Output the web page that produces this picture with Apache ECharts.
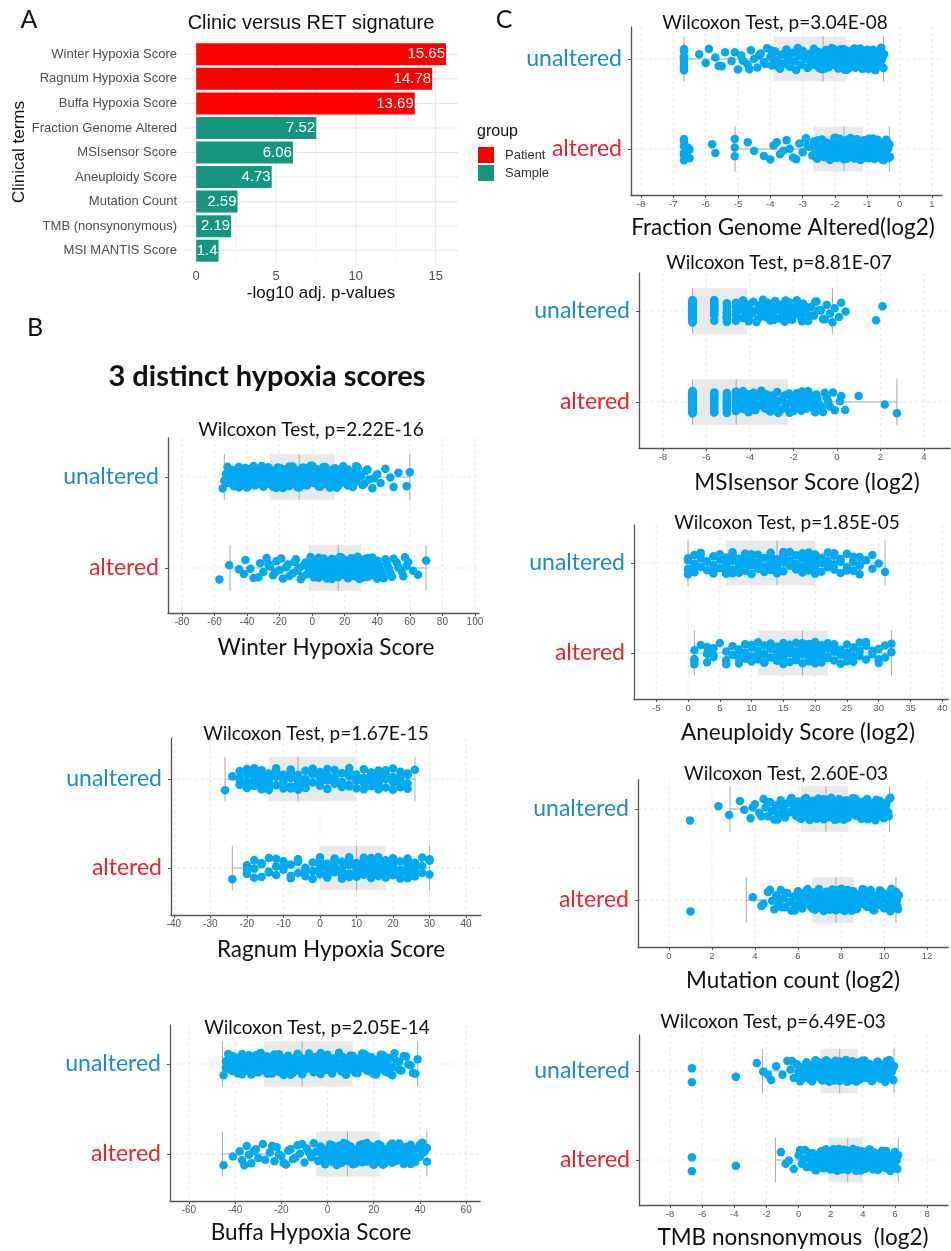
<!DOCTYPE html>
<html lang="en">
<head>
<meta charset="UTF-8">
<title>Clinic versus RET signature</title>
<script src="https://cdn.jsdelivr.net/npm/echarts@6/dist/echarts.min.js"></script>
<style>html,body{margin:0;padding:0;background:#fff;}</style>
</head>
<body>
<div id="main" style="width:951px;height:1251px;"></div>
<script type="text/javascript">
// ---- panel A: -log10 adj. p-values ----
var terms = ['Winter Hypoxia Score', 'Ragnum Hypoxia Score', 'Buffa Hypoxia Score', 'Fraction Genome Altered',
    'MSIsensor Score', 'Aneuploidy Score', 'Mutation Count', 'TMB (nonsynonymous)', 'MSI MANTIS Score'];
var patientVals = [15.65, 14.78, 13.69, '-', '-', '-', '-', '-', '-'];
var sampleVals = ['-', '-', '-', 7.52, 6.06, 4.73, 2.59, 2.19, 1.4];
var ticksA = [0, 5, 10, 15];

// ---- box stats: [whisker low, q1, median, q3, whisker high] ----
var winterBoxU = [-54, -26, -8, 14, 60];
var winterBoxA = [-50.5, -2, 16, 30, 70];
var ragnumBoxU = [-26, -14, -6, 10, 26];
var ragnumBoxA = [-24, 0, 10, 18, 30];
var buffaBoxU = [-45.5, -27.5, -11, 10.8, 39];
var buffaBoxA = [-45.5, -5, 8.6, 22.6, 43];
var fgaBoxU = [-6.67, -3.9, -2.37, -1.65, -0.5];
var fgaBoxA = [-5.09, -2.67, -1.72, -1.13, -0.32];
var msiBoxU = [-6.64, -6.64, -6.64, -4.1, -0.2];
var msiBoxA = [-6.64, -6.64, -4.63, -2.25, 2.76];
var aneuBoxU = [0, 6, 14, 20, 31];
var aneuBoxA = [1, 11, 18, 22, 32];
var mutBoxU = [2.84, 6.14, 7.3, 8.33, 10.26];
var mutBoxA = [3.6, 6.65, 7.77, 8.6, 10.56];
var tmbBoxU = [-2.25, 1.37, 2.56, 3.68, 5.94];
var tmbBoxA = [-1.44, 1.87, 3.06, 4.0, 6.2];

// ---- tick labels ----
var winterTicks = [-80, -60, -40, -20, 0, 20, 40, 60, 80, 100];
var ragnumTicks = [-40, -30, -20, -10, 0, 10, 20, 30, 40];
var buffaTicks = [-60, -40, -20, 0, 20, 40, 60];
var fgaTicks = [-8, -7, -6, -5, -4, -3, -2, -1, 0, 1];
var msiTicks = [-8, -6, -4, -2, 0, 2, 4];
var aneuTicks = [-5, 0, 5, 10, 15, 20, 25, 30, 35, 40];
var mutTicks = [0, 2, 4, 6, 8, 10, 12];
var tmbTicks = [-8, -6, -4, -2, 0, 2, 4, 6, 8];

// ---- points ----
var winterU = [-55, -53, -52, -51, -50, -48, -47, -46, -45, -44, -43, -42, -41, -40, -39, -38, -37, -36, -35, -34, -33, -31, -29, -27,
    -26, -25, -24, -23, -22, -21, -21, -20, -19, -18, -18, -17, -16, -15, -15, -14, -13, -12, -12, -11, -10, -10, -9, -8,
    -7, -6, -5, -4, -3, -2, -1, 0, 1, 2, 3, 4, 5, 5, 6, 7, 8, 9, 10, 10, 11, 12, 13, 14,
    15, 16, 17, 18, 19, 20, 21, 22, 24, 25, 26, 27, 28, 30, 31, 33, 35, 37, 40, 42, 45, 48, 58, 60,
    -54, -52, -50, -49, -48, -46, -45, -43, -42, -41, -40, -39, -38, -37, -36, -35, -34, -32, -31, -30, -29, -28, -27, -26,
    -25, -24, -23, -22, -21, -20, -19, -18, -17, -16, -15, -14, -13, -12, -11, -10, -9, -8, -7, -6, -5, -4, -3, -2,
    -1, 0, 1, 2, 3, 4, 6, 7, 8, 9, 11, 12, 13, 15, 16, 18, 19, 20, 22, 23, 25, 27, 29, 32, 34, 38, 50, 53];
var winterA = [-57, -51, -42, -41, -38, -33, -32, -30, -28, -26, -24, -22, -20, -18, -15, -12, -10, -8, -6, -4,
    -2, -1, 0, 1, 2, 3, 4, 5, 6, 7, 8, 9, 10, 11, 12, 13, 14, 14, 15, 16,
    16, 17, 18, 19, 20, 21, 21, 22, 23, 24, 25, 25, 26, 27, 27, 28, 28, 29, 29, 30,
    31, 32, 33, 34, 35, 36, 37, 38, 40, 41, 43, 45, 47, 49, 52, 55, 57, 58, 65, 70,
    -45, -36, -27, -23, -19, -16, -14, -11, -9, -7, -5, -3, -1, 0, 1, 2, 3, 4, 5, 6, 7, 8, 9, 10, 11, 12, 13, 15,
    15, 17, 17, 18, 19, 20, 20, 22, 23, 24, 24, 26, 26, 27, 28, 29, 30, 31, 32, 33, 34, 35, 36, 37, 38, 39, 40,
    42, 44, 46, 48, 50, 53, 56, 59, 62];
var ragnumU = [-26, -24, -22, -22, -22, -20, -20, -20, -20, -18, -18, -18, -18, -16, -16, -16, -16,
    -14, -14, -14, -14, -12, -12, -12, -12, -10, -10, -10, -10, -8, -8, -8, -8, -6, -6, -6, -6,
    -4, -4, -4, -2, -2, -2, 0, 0, 0, 2, 2, 2, 4, 4, 4, 6, 6, 6, 8, 8, 8, 8, 10, 10, 10,
    12, 12, 12, 14, 14, 14, 16, 16, 16, 16, 18, 18, 18, 20, 20, 20, 22, 22, 22, 24, 24, 24, 26,
    -22, -20, -18, -16, -14, -12, -10, -8, -6, -4, -2, 0, 2, 4, 6, 8, 10, 12, 14, 16, 18, 20, 22, 24,
    -20, -18, -16, -14, -12, -10, -8, -6, -4, -2, 4, 8, 14, 16, 20, 22];
var ragnumA = [-24, -20, -20, -18, -18, -16, -16, -14, -14, -12, -12, -10, -10, -8, -8, -6, -6, -4, -4, -2, -2,
    0, 0, 0, 0, 2, 2, 2, 4, 4, 4, 6, 6, 6, 6, 8, 8, 8, 10, 10, 10, 10,
    12, 12, 12, 12, 12, 14, 14, 14, 14, 14, 16, 16, 16, 16, 16, 18, 18, 18, 18, 18,
    20, 20, 20, 20, 22, 22, 22, 24, 24, 24, 24, 26, 26, 26, 28, 28, 30, 30,
    -20, -18, -16, -14, -12, -10, -8, -6, -4, -2, 0, 2, 4, 6, 8, 10, 12, 14, 16, 18, 20, 22, 24, 26, 28, 30,
    0, 2, 4, 6, 8, 10, 12, 14, 16, 18, 20, 22, 24, 26];
var buffaU = [-45, -44, -42, -41, -40, -39, -39, -38, -37, -36, -36, -35, -34, -33, -33, -32, -31, -31, -30, -30, -29, -29, -28, -28,
    -27, -26, -26, -25, -24, -23, -22, -21, -21, -20, -19, -18, -17, -17, -16, -15, -15, -14, -13, -13, -12, -12, -11, -11,
    -10, -9, -8, -7, -6, -5, -4, -3, -2, -1, 0, 1, 2, 3, 4, 5, 6, 6, 7, 8, 8, 9, 10, 10,
    11, 12, 13, 14, 15, 16, 17, 18, 19, 20, 21, 22, 23, 24, 25, 26, 27, 28, 30, 31, 33, 35, 37, 39,
    -44, -43, -42, -41, -40, -38, -37, -36, -35, -34, -33, -32, -31, -30, -29, -28, -27, -26, -25, -24, -23, -22, -21, -20,
    -19, -18, -17, -16, -15, -14, -13, -12, -11, -10, -9, -8, -7, -6, -5, -4, -3, -2, -1, 0, 1, 2, 3, 4, 5, 7, 9,
    11, 12, 13, 14, 15, 16, 17, 18, 19, 20, 21, 22, 23, 24, 25, 26, 27, 28, 29, 31, 32, 34, 36, 38];
var buffaA = [-45, -38, -37, -35, -34, -33, -31, -30, -28, -25, -23, -22, -20, -18, -17, -15, -13, -12, -10, -9, -7, -6,
    -5, -4, -3, -2, -1, 0, 0, 1, 2, 2, 3, 3, 4, 4, 5, 5, 6, 6, 7, 7, 8, 8,
    9, 10, 11, 11, 12, 13, 14, 14, 15, 16, 16, 17, 18, 18, 19, 20, 20, 21, 21, 22, 22, 22,
    23, 24, 24, 25, 26, 27, 27, 28, 29, 30, 31, 32, 33, 34, 35, 36, 37, 38, 40, 41, 43, 43,
    -41, -36, -32, -27, -24, -21, -19, -16, -14, -11, -8, -4, -3, -2, -1, 0, 1, 2, 3, 4, 5, 6, 7, 8, 9, 10,
    11, 12, 13, 14, 15, 16, 17, 18, 19, 20, 21, 22, 23, 24, 25, 26, 27, 28, 29, 30, 31, 32, 33, 34, 35, 36,
    37, 38, 39, 40, 41, 42];
var fgaU = [-6.67, -6.67, -6.67, -6.67, -6.67, -6.67, -6.2, -6.0, -5.9, -5.7, -5.5, -5.4, -5.2, -5.0, -4.9, -4.7, -4.6, -4.5, -4.4, -4.3, -4.2, -4.1, -4.0, -3.95,
    -3.85, -3.8, -3.7, -3.65, -3.6, -3.5, -3.45, -3.4, -3.3, -3.25, -3.2, -3.1, -3.05, -3.0, -2.9, -2.85, -2.8, -2.7, -2.65, -2.6, -2.55, -2.5, -2.45, -2.4,
    -2.35, -2.3, -2.28, -2.25, -2.2, -2.18, -2.15, -2.1, -2.05, -2.0, -1.98, -1.95, -1.9, -1.88, -1.85, -1.82, -1.8, -1.78, -1.75, -1.72, -1.7, -1.68, -1.66, -1.65,
    -1.6, -1.55, -1.5, -1.45, -1.4, -1.35, -1.3, -1.25, -1.2, -1.15, -1.1, -1.05, -1.0, -0.95, -0.9, -0.85, -0.8, -0.75, -0.7, -0.65, -0.6, -0.55, -0.5, -0.48,
    -6.67, -6.67, -6.67, -5.6, -5.1, -4.85, -4.65, -4.35, -4.15, -3.98, -3.9, -3.75, -3.55, -3.35, -3.15, -2.95, -2.75, -2.58, -2.42, -2.32,
    -2.22, -2.12, -2.02, -1.92, -1.83, -1.76, -1.69, -1.62, -1.57, -1.52, -1.47, -1.42, -1.37, -1.32, -1.27, -1.22, -1.17, -1.12, -1.07, -1.02,
    -0.97, -0.92, -0.87, -0.82, -0.77, -0.72, -0.67, -0.62, -0.57, -0.52, -3.45, -3.05, -2.68, -2.48, -2.08, -1.86, -1.74, -1.58, -1.38, -1.18, -0.98, -0.78];
var fgaA = [-6.67, -6.67, -6.67, -6.67, -6.5, -6.5, -5.8, -5.7, -5.1, -5.1, -5.1, -4.7, -4.5, -4.0, -3.9, -3.7, -3.5, -3.4, -3.3, -3.1, -3.0, -2.9, -2.8, -2.7,
    -2.65, -2.6, -2.55, -2.5, -2.45, -2.4, -2.35, -2.3, -2.25, -2.2, -2.15, -2.1, -2.05, -2.0, -1.98, -1.95, -1.9, -1.88, -1.85, -1.82, -1.8, -1.78, -1.75, -1.73,
    -1.7, -1.68, -1.65, -1.62, -1.6, -1.58, -1.55, -1.52, -1.5, -1.48, -1.45, -1.42, -1.4, -1.38, -1.35, -1.32, -1.3, -1.28, -1.25, -1.22, -1.2, -1.18, -1.15, -1.14,
    -1.1, -1.05, -1.0, -0.98, -0.95, -0.9, -0.88, -0.85, -0.8, -0.78, -0.75, -0.7, -0.68, -0.65, -0.6, -0.58, -0.55, -0.5, -0.48, -0.45, -0.4, -0.38, -0.35, -0.32,
    -6.67, -6.67, -6.55, -4.2, -3.8, -3.6, -3.2, -2.85, -2.62, -2.52, -2.42, -2.32, -2.22, -2.12, -2.02, -1.92, -1.84, -1.76, -1.69, -1.63,
    -1.57, -1.51, -1.46, -1.41, -1.36, -1.31, -1.26, -1.21, -1.16, -1.12, -1.08, -1.03, -0.99, -0.93, -0.87, -0.82, -0.77, -0.72, -0.66, -0.62,
    -0.56, -0.52, -0.46, -0.42, -0.36, -0.3, -2.48, -2.28, -1.98, -1.78, -1.54, -1.34, -1.14, -0.96, -0.74];
var msiU = [-6.64, -6.64, -6.64, -6.64, -6.64, -6.64, -6.64, -6.64, -6.64, -6.64, -6.64, -6.64, -6.64, -6.64, -6.64, -6.64, -6.64, -6.64, -6.64, -6.64, -6.64, -6.64, -6.64, -6.64,
    -5.64, -5.64, -5.64, -5.64, -5.64, -5.64, -5.64, -5.06, -5.06, -5.06, -5.06, -5.06, -5.06,
    -4.64, -4.64, -4.64, -4.64, -4.64, -4.32, -4.32, -4.32, -4.32, -4.06, -4.06, -4.06, -4.06,
    -3.84, -3.74, -3.64, -3.56, -3.47, -3.4, -3.32, -3.25, -3.18, -3.12, -3.06, -3.0, -2.94, -2.84, -2.74, -2.64, -2.56, -2.47, -2.4, -2.32,
    -2.25, -2.18, -2.12, -2.06, -2.0, -1.94, -1.84, -1.74, -1.64, -1.56, -1.47, -1.32, -1.18, -1.06, -0.94, -0.84, -0.64, -0.47, -0.32, -0.2,
    -0.1, 0.1, 0.2, 0.4, 1.8, 2.1,
    -6.64, -6.64, -6.64, -6.64, -6.64, -6.64, -6.64, -6.64, -6.64, -6.64, -6.64, -6.64, -5.64, -5.64, -5.64, -5.64, -5.06, -5.06, -5.06,
    -4.64, -4.64, -4.64, -4.32, -4.32, -4.06, -4.06, -3.9, -3.7, -3.5, -3.36, -3.22, -3.1, -2.9, -2.7, -2.5, -2.36, -2.22, -2.1, -1.9, -1.8,
    -1.6, -1.4, -1.25, -1.0, -0.74, -0.56];
var msiA = [-6.64, -6.64, -6.64, -6.64, -6.64, -6.64, -6.64, -6.64, -6.64, -6.64, -6.64, -6.64, -6.64, -6.64, -6.64, -6.64, -6.64, -6.64, -6.64, -6.64, -6.64, -6.64,
    -5.64, -5.64, -5.64, -5.64, -5.64, -5.64, -5.64, -5.64, -5.06, -5.06, -5.06, -5.06, -5.06, -5.06, -5.06,
    -4.64, -4.64, -4.64, -4.64, -4.64, -4.64, -4.64,
    -4.32, -4.32, -4.32, -4.06, -4.06, -4.06, -3.84, -3.84, -3.74, -3.64, -3.56, -3.47, -3.4, -3.32, -3.25, -3.12, -3.06, -2.94, -2.84, -2.74, -2.64, -2.56, -2.4, -2.32,
    -2.18, -2.06, -1.94, -1.84, -1.74, -1.64, -1.56, -1.47, -1.32, -1.18, -1.06, -0.94, -0.84, -0.64, -0.47, -0.32, -0.18, 0.14, 0.38, 1.0, 2.2, 2.76,
    -6.64, -6.64, -6.64, -6.64, -6.64, -6.64, -6.64, -6.64, -6.64, -6.64, -5.64, -5.64, -5.64, -5.64, -5.06, -5.06, -5.06,
    -4.64, -4.64, -4.64, -4.32, -4.32, -4.32, -4.06, -4.06, -4.06, -3.9, -3.7, -3.5, -3.3, -3.15, -3.0, -2.9, -2.7, -2.5, -2.36,
    -2.2, -2.1, -2.0, -1.9, -1.7, -1.6, -1.5, -1.4, -1.25, -1.1, -1.0, -0.9, -0.7, -0.56, -0.4, -0.1, 0.2];
var aneuU = [0, 0, 0, 1, 1, 1, 2, 2, 2, 3, 3, 4, 4, 4, 5, 5, 5, 6, 6, 6, 6, 7, 7, 7, 7, 8, 8, 8, 8, 9, 9, 9, 9, 10, 10, 10,
    11, 11, 11, 12, 12, 12, 13, 13, 13, 13, 14, 14, 14, 14, 15, 15, 15, 15, 16, 16, 16, 17, 17, 17, 18, 18, 18, 18,
    19, 19, 19, 19, 20, 20, 20, 20, 21, 21, 21, 22, 22, 22, 23, 23, 23, 24, 24, 25, 25, 26, 26, 27, 27, 27, 28, 29, 29, 30, 31,
    0, 1, 2, 3, 4, 5, 6, 7, 8, 9, 10, 11, 12, 13, 14, 15, 16, 17, 18, 19, 20, 21, 22, 23, 24, 25, 26, 27,
    6, 7, 8, 9, 13, 14, 15, 18, 19, 20];
var aneuA = [1, 1, 1, 2, 3, 3, 4, 4, 5, 6, 6, 7, 7, 8, 8, 8, 9, 9, 10, 10, 10, 11, 11, 11, 12, 12, 12, 13, 13, 13, 14, 14, 14,
    15, 15, 15, 15, 16, 16, 16, 16, 17, 17, 17, 17, 18, 18, 18, 18, 19, 19, 19, 19, 20, 20, 20, 20, 21, 21, 21, 21,
    22, 22, 22, 23, 23, 23, 24, 24, 24, 25, 25, 25, 26, 26, 26, 27, 27, 28, 28, 29, 30, 30, 31, 32, 32,
    1, 3, 4, 6, 8, 9, 10, 11, 12, 13, 14, 15, 16, 17, 18, 19, 20, 21, 22, 23, 24, 25, 26, 27, 28, 29, 30, 31,
    14, 15, 16, 17, 18, 19, 20, 21];
var mutU = [0.98, 2.3, 2.8, 3.3, 3.5, 3.8, 4.0, 4.2, 4.4, 4.5, 4.6, 4.7, 4.8, 4.9, 5.0, 5.1, 5.2, 5.3, 5.4, 5.5, 5.6, 5.7, 5.8, 5.9, 6.0, 6.1,
    6.15, 6.2, 6.25, 6.3, 6.35, 6.4, 6.45, 6.5, 6.55, 6.6, 6.65, 6.7, 6.75, 6.8, 6.85, 6.9, 6.95, 7.0, 7.05, 7.1, 7.15, 7.2, 7.25, 7.3,
    7.35, 7.4, 7.42, 7.45, 7.5, 7.55, 7.6, 7.65, 7.68, 7.7, 7.75, 7.8, 7.85, 7.9, 7.95, 8.0, 8.05, 8.1, 8.12, 8.15, 8.2, 8.25, 8.3, 8.32,
    8.4, 8.5, 8.55, 8.6, 8.7, 8.8, 8.9, 8.95, 9.0, 9.1, 9.2, 9.3, 9.35, 9.4, 9.5, 9.6, 9.7, 9.75, 9.8, 9.9, 10.0, 10.1, 10.2, 10.26,
    3.9, 4.3, 4.6, 4.85, 5.05, 5.25, 5.45, 5.65, 5.85, 6.05, 6.18, 6.28, 6.38, 6.48, 6.58, 6.68, 6.78, 6.88, 6.98, 7.08,
    7.18, 7.28, 7.38, 7.48, 7.58, 7.72, 7.82, 7.92, 8.02, 8.18, 8.28, 8.38, 8.48, 8.65, 8.75, 8.85, 9.05, 9.15, 9.25, 9.45,
    9.55, 9.65, 9.85, 9.95, 10.05, 10.15, 10.3, 6.22, 6.62, 7.02, 7.52, 7.88, 8.42, 8.82, 9.22, 9.62, 10.22];
var mutA = [1.0, 3.9, 4.3, 4.6, 4.8, 4.9, 5.0, 5.1, 5.2, 5.3, 5.4, 5.5, 5.6, 5.7, 5.8, 5.9, 6.0, 6.1, 6.2, 6.3, 6.4, 6.45, 6.5, 6.6,
    6.7, 6.75, 6.8, 6.85, 6.9, 6.95, 7.0, 7.05, 7.1, 7.15, 7.2, 7.25, 7.3, 7.35, 7.4, 7.45, 7.5, 7.55, 7.6, 7.65, 7.7, 7.72, 7.75, 7.76,
    7.8, 7.82, 7.85, 7.88, 7.9, 7.95, 8.0, 8.02, 8.05, 8.1, 8.12, 8.15, 8.2, 8.22, 8.25, 8.3, 8.35, 8.4, 8.42, 8.45, 8.5, 8.52, 8.55, 8.58,
    8.65, 8.7, 8.8, 8.9, 9.0, 9.1, 9.2, 9.3, 9.4, 9.5, 9.6, 9.7, 9.8, 9.9, 10.0, 10.1, 10.2, 10.3, 10.4, 10.5, 10.56, 10.6, 10.65, 10.7,
    4.4, 4.7, 5.05, 5.25, 5.45, 5.65, 5.85, 6.05, 6.25, 6.38, 6.55, 6.68, 6.78, 6.88, 6.98, 7.08, 7.18, 7.28, 7.38, 7.48,
    7.58, 7.68, 7.78, 7.84, 7.92, 7.98, 8.08, 8.18, 8.28, 8.38, 8.48, 8.62, 8.75, 8.85, 8.95, 9.05, 9.15, 9.25, 9.35, 9.45,
    9.55, 9.65, 9.75, 9.85, 9.95, 10.05, 10.15, 10.25, 10.35, 10.45, 10.62, 7.02, 7.42, 8.06, 8.44, 8.92, 9.38];
var tmbU = [-6.64, -6.64, -3.9, -2.6, -2.2, -1.7, -1.4, -1.0, -0.7, -0.5, -0.3, -0.1, 0.0, 0.1, 0.2, 0.35, 0.5, 0.6, 0.7, 0.8, 0.95, 1.05, 1.2, 1.3,
    1.4, 1.45, 1.5, 1.55, 1.6, 1.65, 1.7, 1.75, 1.8, 1.85, 1.9, 1.95, 2.0, 2.05, 2.1, 2.15, 2.2, 2.25, 2.3, 2.35, 2.4, 2.45, 2.5, 2.55,
    2.6, 2.65, 2.7, 2.75, 2.8, 2.85, 2.9, 2.95, 3.0, 3.05, 3.1, 3.15, 3.2, 3.25, 3.3, 3.35, 3.4, 3.45, 3.5, 3.55, 3.6, 3.62, 3.65, 3.67,
    3.7, 3.8, 3.9, 4.0, 4.1, 4.2, 4.3, 4.4, 4.5, 4.6, 4.7, 4.8, 4.9, 5.0, 5.1, 5.2, 5.3, 5.4, 5.5, 5.6, 5.7, 5.8, 5.9, 5.94,
    -1.9, -0.4, 0.05, 0.3, 0.45, 0.65, 0.85, 1.0, 1.15, 1.25, 1.35, 1.42, 1.52, 1.62, 1.72, 1.82, 1.92, 2.02, 2.12, 2.22,
    2.32, 2.42, 2.52, 2.62, 2.72, 2.82, 2.92, 3.02, 3.12, 3.22, 3.32, 3.42, 3.52, 3.72, 3.85, 3.95, 4.05, 4.15, 4.25, 4.35,
    4.55, 4.65, 4.75, 4.95, 5.05, 5.25, 5.35, 5.55, 5.65, 5.85, 1.58, 2.08, 2.58, 3.08, 3.58, 4.48, 5.48];
var tmbA = [-6.64, -6.64, -3.9, -1.1, -0.6, -0.3, 0.0, 0.2, 0.4, 0.6, 0.75, 0.9, 1.0, 1.1, 1.2, 1.3, 1.4, 1.5, 1.55, 1.6, 1.65, 1.7, 1.75, 1.8,
    1.9, 1.95, 2.0, 2.05, 2.1, 2.15, 2.2, 2.25, 2.3, 2.35, 2.4, 2.45, 2.5, 2.55, 2.6, 2.65, 2.7, 2.75, 2.8, 2.85, 2.9, 2.95, 3.0, 3.05,
    3.1, 3.12, 3.15, 3.2, 3.25, 3.3, 3.35, 3.38, 3.4, 3.45, 3.5, 3.52, 3.55, 3.6, 3.62, 3.65, 3.7, 3.75, 3.8, 3.85, 3.88, 3.9, 3.95, 4.0,
    4.05, 4.1, 4.2, 4.3, 4.4, 4.5, 4.6, 4.7, 4.8, 4.9, 5.0, 5.1, 5.2, 5.3, 5.4, 5.5, 5.6, 5.7, 5.8, 5.9, 6.0, 6.1, 6.15, 6.2,
    -0.8, 0.1, 0.3, 0.5, 0.7, 0.85, 1.05, 1.25, 1.45, 1.62, 1.78, 1.88, 1.98, 2.08, 2.18, 2.28, 2.38, 2.48, 2.58, 2.68,
    2.78, 2.88, 2.98, 3.08, 3.18, 3.28, 3.42, 3.58, 3.68, 3.78, 3.92, 4.02, 4.15, 4.25, 4.35, 4.45, 4.55, 4.65, 4.75, 4.85,
    4.95, 5.15, 5.25, 5.45, 5.65, 5.85, 6.05, 2.12, 2.52, 2.92, 3.32, 3.72, 4.12, 4.62];

// layout of the 8 strip plots (pixels): l/r/t/b = plot box, u/a = row centres
var plots = [
    {title: 'Wilcoxon Test, p=2.22E-16', xName: 'Winter Hypoxia Score', tx: 311, ty: 430, nx: 326, ny: 648,
        l: 168, r: 479, t: 438, b: 613, u: 477, a: 568, xmin: -88.6, xmax: 102.5, ticks: winterTicks, fs: 10,
        boxU: winterBoxU, boxA: winterBoxA, ptsU: winterU, ptsA: winterA},
    {title: 'Wilcoxon Test, p=1.67E-15', xName: 'Ragnum Hypoxia Score', tx: 316, ty: 734, nx: 331, ny: 950,
        l: 171, r: 481, t: 738, b: 915, u: 779, a: 868, xmin: -40.8, xmax: 44.1, ticks: ragnumTicks, fs: 10,
        boxU: ragnumBoxU, boxA: ragnumBoxA, ptsU: ragnumU, ptsA: ragnumA},
    {title: 'Wilcoxon Test, p=2.05E-14', xName: 'Buffa Hypoxia Score', tx: 317, ty: 1028, nx: 311, ny: 1233,
        l: 170, r: 480, t: 1025, b: 1201, u: 1064, a: 1154, xmin: -68.2, xmax: 66, ticks: buffaTicks, fs: 10,
        boxU: buffaBoxU, boxA: buffaBoxA, ptsU: buffaU, ptsA: buffaA},
    {title: 'Wilcoxon Test, p=3.04E-08', xName: 'Fraction Genome Altered(log2)', tx: 775, ty: 23, nx: 783, ny: 228,
        l: 631, r: 942, t: 27, b: 195, u: 59, a: 149, xmin: -8.31, xmax: 1.31, ticks: fgaTicks, fs: 9.5,
        boxU: fgaBoxU, boxA: fgaBoxA, ptsU: fgaU, ptsA: fgaA},
    {title: 'Wilcoxon Test, p=8.81E-07', xName: 'MSIsensor Score (log2)', tx: 779, ty: 263, nx: 807, ny: 483,
        l: 639, r: 950, t: 273, b: 448, u: 311, a: 402, xmin: -9.1, xmax: 5.2, ticks: msiTicks, fs: 9.5,
        boxU: msiBoxU, boxA: msiBoxA, ptsU: msiU, ptsA: msiA},
    {title: 'Wilcoxon Test, p=1.85E-05', xName: 'Aneuploidy Score (log2)', tx: 787, ty: 523, nx: 798, ny: 733,
        l: 634, r: 948, t: 525, b: 699, u: 563, a: 653, xmin: -8.5, xmax: 40.9, ticks: aneuTicks, fs: 9.5,
        boxU: aneuBoxU, boxA: aneuBoxA, ptsU: aneuU, ptsA: aneuA},
    {title: 'Wilcoxon Test, 2.60E-03', xName: 'Mutation count (log2)', tx: 786, ty: 774, nx: 793, ny: 981,
        l: 638, r: 948, t: 780, b: 947, u: 809, a: 900, xmin: -1.44, xmax: 12.98, ticks: mutTicks, fs: 9.5,
        boxU: mutBoxU, boxA: mutBoxA, ptsU: mutU, ptsA: mutA},
    {title: 'Wilcoxon Test, p=6.49E-03', xName: 'TMB nonsnonymous  (log2)', tx: 773, ty: 1022, nx: 793, ny: 1238,
        l: 639, r: 948, t: 1035, b: 1205, u: 1071, a: 1160, xmin: -9.93, xmax: 9.3, ticks: tmbTicks, fs: 9.5,
        boxU: tmbBoxU, boxA: tmbBoxA, ptsU: tmbU, ptsA: tmbA}
];

var BLUE_PT = '#00a9f1', BLUE_LBL = '#1b8ccb', RED_LBL = '#e4252c';

// vertical spread of the strip points (display only)
function jitter(i) {
    return ((i * 0.618034) % 1 - 0.5) * 0.25;
}

function txt(s, x, y, size, o) {
    o = o || {};
    return {
        type: 'text', x: x, y: y, rotation: o.rot || 0, silent: true, z: 10,
        style: {
            text: s, x: 0, y: 0, fill: o.color || '#111',
            fontSize: size, fontFamily: o.family || 'Lato', fontWeight: o.weight || 'normal',
            align: o.align || 'center', verticalAlign: 'middle',
            textAlign: o.align || 'center', textVerticalAlign: 'middle'
        }
    };
}

// grid lines: item = [dir(0 vertical / 1 horizontal), value, xRef, yRef, minor]
function gridLineSeries(gi, xs, ys, xRef, yRef, minorXs, col, minorCol, dash) {
    var data = [];
    xs.forEach(function (v) { data.push([0, v, xRef, yRef, 0]); });
    (minorXs || []).forEach(function (v) { data.push([0, v, xRef, yRef, 1]); });
    ys.forEach(function (v) { data.push([1, v, xRef, yRef, 0]); });
    return {
        type: 'custom', xAxisIndex: gi, yAxisIndex: gi, z: 0, silent: true,
        encode: {x: 2, y: 3},
        data: data,
        renderItem: function (params, api) {
            var cs = params.coordSys;
            var st = {stroke: api.value(4) ? minorCol : col, lineWidth: 1, lineDash: dash || null};
            if (api.value(0) === 0) {
                var x = api.coord([api.value(1), api.value(3)])[0];
                return {type: 'line', shape: {x1: x, y1: cs.y, x2: x, y2: cs.y + cs.height}, style: st};
            }
            var y = api.coord([api.value(2), api.value(1)])[1];
            return {type: 'line', shape: {x1: cs.x, y1: y, x2: cs.x + cs.width, y2: y}, style: st};
        }
    };
}

function renderBox(params, api) {
    var pos = api.value(0), hh = 0.25;
    var yTop = api.coord([0, pos + hh])[1];
    var yBot = api.coord([0, pos - hh])[1];
    var yMid = api.coord([0, pos])[1];
    var xs = [1, 2, 3, 4, 5].map(function (d) { return api.coord([api.value(d), pos])[0]; });
    var ls = {stroke: '#a8a8a8', lineWidth: 1};
    return {
        type: 'group', children: [
            {type: 'rect', shape: {x: xs[1], y: yTop, width: xs[3] - xs[1], height: yBot - yTop}, style: {fill: '#e9e9e9'}},
            {type: 'line', shape: {x1: xs[0], y1: yMid, x2: xs[1], y2: yMid}, style: ls},
            {type: 'line', shape: {x1: xs[3], y1: yMid, x2: xs[4], y2: yMid}, style: ls},
            {type: 'line', shape: {x1: xs[2], y1: yTop, x2: xs[2], y2: yBot}, style: ls},
            {type: 'line', shape: {x1: xs[0], y1: yTop, x2: xs[0], y2: yBot}, style: ls},
            {type: 'line', shape: {x1: xs[4], y1: yTop, x2: xs[4], y2: yBot}, style: ls}
        ]
    };
}

var grids = [], xAxes = [], yAxes = [], series = [], texts = [];

// panel A
grids.push({left: 185, top: 42, width: 273, height: 221, outerBoundsMode: 'none'});
xAxes.push({
    gridIndex: 0, type: 'value', min: -0.7, max: 16.4,
    axisLine: {show: false}, axisTick: {show: false}, splitLine: {show: false},
    axisLabel: {customValues: ticksA, fontSize: 13, color: '#4d4d4d', margin: 7, fontFamily: 'Liberation Sans'}
});
yAxes.push({
    gridIndex: 0, type: 'category', inverse: true, data: terms,
    axisLine: {show: false}, axisTick: {show: false}, splitLine: {show: false},
    axisLabel: {fontSize: 13, color: '#4d4d4d', margin: 8, fontFamily: 'Liberation Sans'}
});
series.push(gridLineSeries(0, ticksA, [0, 1, 2, 3, 4, 5, 6, 7, 8], 0, 0, [2.5, 7.5, 12.5], '#e4e4e4', '#f1f1f1'));
var barLabel = {show: true, position: 'insideRight', distance: 1, color: '#fff', fontSize: 15, fontFamily: 'Liberation Sans'};
series.push({name: 'Patient', type: 'bar', xAxisIndex: 0, yAxisIndex: 0, z: 2, barWidth: 22, barGap: '-100%',
    itemStyle: {color: '#ff0000'}, label: barLabel, data: patientVals});
series.push({name: 'Sample', type: 'bar', xAxisIndex: 0, yAxisIndex: 0, z: 2, barWidth: 22, barGap: '-100%',
    itemStyle: {color: '#169680'}, label: barLabel, data: sampleVals});

texts.push(txt('A', 29, 20, 25));
texts.push(txt('Clinic versus RET signature', 311, 23, 20, {family: 'Liberation Sans', color: '#111'}));
texts.push(txt('Clinical terms', 19, 152, 17, {family: 'Liberation Sans', rot: Math.PI / 2}));
texts.push(txt('-log10 adj. p-values', 321, 293, 17, {family: 'Liberation Sans'}));
texts.push(txt('group', 477, 132, 16, {family: 'Liberation Sans', align: 'left'}));
texts.push(txt('B', 35, 328, 25));
texts.push(txt('3 distinct hypoxia scores', 267, 377, 29, {weight: 'bold'}));
texts.push(txt('C', 504, 20, 25));

plots.forEach(function (p, k) {
    var gi = k + 1;
    var unit = p.a - p.u;
    var ymax = 2 + (p.u - p.t) / unit;
    var ymin = 1 - (p.b - p.a) / unit;
    grids.push({left: p.l, top: p.t, width: p.r - p.l, height: p.b - p.t, outerBoundsMode: 'none'});
    xAxes.push({
        gridIndex: gi, type: 'value', min: p.xmin, max: p.xmax,
        axisLine: {onZero: false, lineStyle: {color: '#555', width: 1.3}},
        axisTick: {customValues: p.ticks, length: 3, lineStyle: {color: '#555'}},
        splitLine: {show: false},
        axisLabel: {customValues: p.ticks, fontSize: p.fs, color: '#555', margin: 4, fontFamily: 'Liberation Sans'}
    });
    yAxes.push({
        gridIndex: gi, type: 'value', min: ymin, max: ymax,
        axisLine: {onZero: false, lineStyle: {color: '#555', width: 1.3}},
        axisTick: {customValues: [1, 2], length: 3, lineStyle: {color: '#555'}},
        splitLine: {show: false},
        axisLabel: {
            customValues: [1, 2], margin: 9,
            formatter: function (v) { return v === 2 ? '{u|unaltered}' : '{a|altered}'; },
            rich: {
                u: {color: BLUE_LBL, fontSize: 23, fontFamily: 'Lato'},
                a: {color: RED_LBL, fontSize: 23, fontFamily: 'Lato'}
            }
        }
    });
    series.push(gridLineSeries(gi, p.ticks, [1, 2], p.ticks[0], 1, null, '#e8e8e8', '#e8e8e8', [3, 3]));
    series.push({
        type: 'custom', xAxisIndex: gi, yAxisIndex: gi, z: 1, silent: true,
        encode: {x: [1, 5], y: 0},
        data: [[2].concat(p.boxU), [1].concat(p.boxA)],
        renderItem: renderBox
    });
    [[p.ptsU, 2], [p.ptsA, 1]].forEach(function (g) {
        series.push({
            type: 'scatter', xAxisIndex: gi, yAxisIndex: gi, z: 2, silent: true,
            symbolSize: 8.5, itemStyle: {color: BLUE_PT, opacity: 1},
            data: g[0].map(function (v, i) { return [v, g[1] + jitter(i)]; })
        });
    });
    texts.push(txt(p.title, p.tx, p.ty, 19));
    texts.push(txt(p.xName, p.nx, p.ny, 22.5));
});

var chart = echarts.init(document.getElementById('main'));
chart.setOption({
    animation: false,
    backgroundColor: '#fff',
    grid: grids,
    xAxis: xAxes,
    yAxis: yAxes,
    legend: {
        data: ['Patient', 'Sample'], orient: 'vertical', left: 478, top: 147, padding: 0,
        itemWidth: 16, itemHeight: 16, itemGap: 2, icon: 'rect', selectedMode: false,
        textStyle: {fontSize: 13, color: '#333', fontFamily: 'Liberation Sans', padding: [0, 0, 0, 6]}
    },
    graphic: texts,
    series: series
});
</script>
</body>
</html>
